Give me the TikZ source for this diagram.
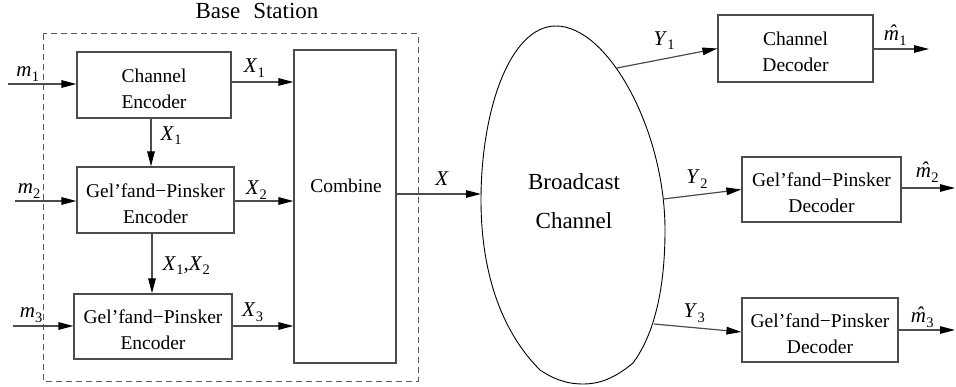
\documentclass[tikz,border=0pt]{standalone}
\usepackage{fontspec}
\setmainfont{Liberation Serif}
\usetikzlibrary{arrows.meta}

% italic symbol with a subscript
\newcommand\symb[2]{\textit{#1}\kern0.3pt\raisebox{-4.5pt}{\fontsize{14.5}{14.5}\selectfont #2}}
% italic m with a hat over it
\newcommand\hatm{\leavevmode\ooalign{\textit{m}\cr\hidewidth\kern2pt\raisebox{1pt}{\textit{ˆ}}\hidewidth\cr}}
\newcommand\mhat[1]{\symb{\hatm}{#1}}
% strut that lowers the text block inside a box a little
\newcommand\tstrut{\rule{0pt}{20.3pt}}

\tikzset{
  box/.style={draw=black!70, line width=1.2pt, inner sep=0pt, align=center,
    font=\fontsize{19.5}{26}\selectfont},
  arr/.style={draw=black!70, line width=1.2pt,
    -{Triangle[length=15pt,width=7.5pt,color=black]}},
  lab/.style={anchor=base, inner sep=0pt, font=\fontsize{21}{21}\selectfont},
  vlab/.style={anchor=base west, inner sep=0pt, font=\fontsize{21}{21}\selectfont},
}

\begin{document}
\begin{tikzpicture}[x=1pt, y=-1pt]
\useasboundingbox (0,0) rectangle (956,387);

% base station frame
\draw[black!65, line width=1pt, dash pattern=on 6pt off 4pt] (43,34) rectangle (418,381);
\node[anchor=base, inner sep=0pt, font=\fontsize{23}{23}\selectfont] (bs) at (257,19) {Base\hspace{13pt}Station};

% encoders
\node[box, minimum width=154pt, minimum height=66pt] (ce) at (154,85) {\tstrut Channel\\Encoder};
\node[box, minimum width=157pt, minimum height=66pt] (gpe1) at (155.5,200) {\tstrut Gel'fand−Pinsker\\Encoder};
\node[box, minimum width=158pt, minimum height=65pt] (gpe2) at (153,326.5) {\tstrut Gel'fand−Pinsker\\Encoder};
\node[box, minimum width=102pt, minimum height=313pt] (comb) at (345,206.5) {};
\node[inner sep=0pt, font=\fontsize{19.5}{26}\selectfont] (combt) at (346,186) {Combine};

% decoders
\node[box, minimum width=155pt, minimum height=67pt] (cd) at (795.5,48.5) {\tstrut Channel\\Decoder};
\node[box, minimum width=159pt, minimum height=65pt] (gpd1) at (821.5,189.5) {\tstrut Gel'fand−Pinsker\\Decoder};
\node[box, minimum width=156pt, minimum height=64pt] (gpd2) at (820,330) {\tstrut Gel'fand−Pinsker\\Decoder};

% broadcast channel: egg-shaped outline with a blunt lower end
\draw[black, line width=0.9pt]
  (556,26) .. controls (608,26) and (665,130) .. (665,230)
           .. controls (665,300) and (650,340) .. (633,363)
           .. controls (615,378) and (600,384) .. (583,384)
           .. controls (565,384) and (552,378) .. (540,370)
           .. controls (500,330) and (481,270) .. (481,200)
           .. controls (481,110) and (510,26) .. (556,26) -- cycle;
\node[inner sep=0pt, align=center, font=\fontsize{23}{39}\selectfont] (bc) at (574,200.7) {Broadcast\\Channel};
\coordinate (bX) at (481,194);
\coordinate (bY1) at (617,68);
\coordinate (bY2) at (663.5,199);
\coordinate (bY3) at (654,324);

% inputs
\coordinate (m1in) at (8,84);
\coordinate (m2in) at (15,201);
\coordinate (m3in) at (13,326);
\draw[arr] (m1in) -- node[lab, pos=0.29, yshift=7pt] {\symb{m}{1}} (m1in -| ce.west);
\draw[arr] (m2in) -- node[lab, pos=0.23, yshift=7pt] {\symb{m}{2}} (m2in -| gpe1.west);
\draw[arr] (m3in) -- node[lab, pos=0.30, yshift=8pt] {\symb{m}{3}} (m3in -| gpe2.west);

% encoder outputs to the combiner
\coordinate (x1s) at ([yshift=3pt]ce.east);
\coordinate (x2s) at ([yshift=-1pt]gpe1.east);
\coordinate (x3s) at ([yshift=0.5pt]gpe2.east);
\draw[arr] (x1s) -- node[lab, pos=0.37, yshift=9pt] {\symb{X}{1}} (x1s -| comb.west);
\draw[arr] (x2s) -- node[lab, pos=0.37, yshift=6pt] {\symb{X}{2}} (x2s -| comb.west);
\draw[arr] (x3s) -- node[lab, pos=0.33, yshift=9pt] {\symb{X}{3}} (x3s -| comb.west);

% side information passed down
\coordinate (v1) at ([xshift=-3pt]ce.south);
\coordinate (v2) at ([xshift=-3.5pt]gpe1.south);
\draw[arr] (v1) -- node[vlab, pos=0.45, xshift=9pt] {\symb{X}{1}} (v1 |- gpe1.north);
\draw[arr] (v2) -- node[vlab, pos=0.61, xshift=10pt] {\symb{X}{1},\symb{X}{2}} (v2 |- gpe2.north);

% combined signal into the channel
\coordinate (xs) at ([yshift=12.5pt]comb.east);
\draw[arr] (xs) -- node[lab, pos=0.54, yshift=8pt] {\textit{X}} (bX);

% channel outputs
\draw[arr] (bY1) -- node[lab, pos=0.47, yshift=13.6pt] {\symb{Y}{1}} (cd.west);
\draw[arr] (bY2) -- node[lab, pos=0.43, yshift=11pt] {\symb{Y}{2}} (gpd1.west);
\draw[arr] (bY3) -- node[lab, pos=0.46, yshift=9.7pt] {\symb{Y}{3}} ([yshift=-2pt]gpd2.west);

% decoded messages
\coordinate (o1) at (929,49);
\coordinate (o2) at (955,188);
\coordinate (o3) at (955,330);
\draw[arr] (o1 -| cd.east) -- node[lab, pos=0.39, yshift=8pt] {\mhat{1}} (o1);
\draw[arr] (o2 -| gpd1.east) -- node[lab, pos=0.48, yshift=10pt] {\mhat{2}} (o2);
\draw[arr] (o3 -| gpd2.east) -- node[lab, pos=0.42, yshift=7pt] {\mhat{3}} (o3);
\end{tikzpicture}
\end{document}
